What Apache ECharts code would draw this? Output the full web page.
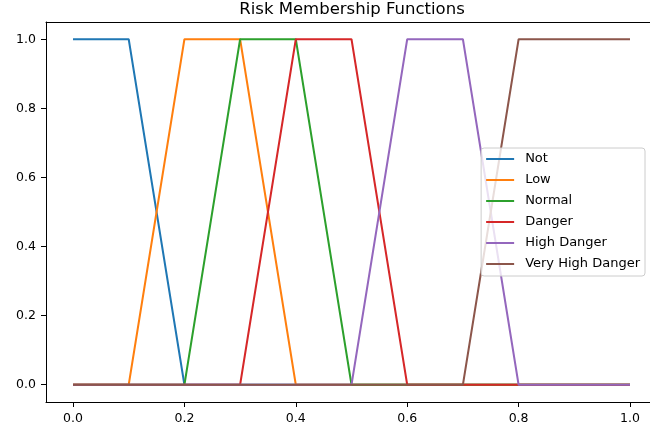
<!DOCTYPE html>
<html>
<head>
<meta charset="utf-8">
<script src="https://cdn.jsdelivr.net/npm/echarts@6/dist/echarts.min.js"></script>
<style>
  html, body { margin: 0; padding: 0; background: #fff; }
  #chart { width: 650px; height: 431px; }
</style>
</head>
<body>
<div id="chart"></div>
<script>
// corner points of each membership function
const seriesNames = ['Not', 'Low', 'Normal', 'Danger', 'High Danger', 'Very High Danger'];
const notPts = [[0, 1], [0.1, 1], [0.2, 0], [1, 0]];
const lowPts = [[0, 0], [0.1, 0], [0.2, 1], [0.3, 1], [0.4, 0], [1, 0]];
const normalPts = [[0, 0], [0.2, 0], [0.3, 1], [0.4, 1], [0.5, 0], [1, 0]];
const dangerPts = [[0, 0], [0.3, 0], [0.4, 1], [0.5, 1], [0.6, 0], [1, 0]];
const highDangerPts = [[0, 0], [0.5, 0], [0.6, 1], [0.7, 1], [0.8, 0], [1, 0]];
const veryHighPts = [[0, 0], [0.7, 0], [0.8, 1], [1, 1]];
const xTicks = [0, 0.2, 0.4, 0.6, 0.8, 1.0];
const yTicks = [0, 0.2, 0.4, 0.6, 0.8, 1.0];

const colors = ['#1f77b4', '#ff7f0e', '#2ca02c', '#d62728', '#9467bd', '#8c564b'];
const allPts = [notPts, lowPts, normalPts, dangerPts, highDangerPts, veryHighPts];

const font = 'DejaVu Sans';

// shared look of the two value axes (matplotlib-like spines and ticks)
const makeAxis = (ticks, min, max) => ({
    type: 'value',
    min: min,
    max: max,
    axisLine: { show: true, onZero: false, lineStyle: { color: '#000', width: 1 } },
    splitLine: { show: false },
    axisTick: {
        show: true, inside: false, length: 5, customValues: ticks,
        lineStyle: { color: '#000', width: 1 }
    },
    axisLabel: {
        color: '#000', fontSize: 12.5, fontFamily: font, margin: 10, customValues: ticks,
        formatter: (v) => v.toFixed(1)
    }
});

const option = {
    animation: false,
    color: colors,
    title: {
        text: 'Risk Membership Functions',
        left: 352,
        top: 0,
        padding: [1, 0, 0, 0],
        textAlign: 'center',
        textStyle: { color: '#000', fontSize: 16.5, fontWeight: 'normal', fontFamily: font }
    },
    legend: {
        orient: 'vertical',
        right: 5,
        top: 148,
        data: seriesNames,
        icon: 'rect',
        itemWidth: 28,
        itemHeight: 2,
        itemGap: 7,
        padding: [4, 5, 5, 5],
        backgroundColor: 'rgba(255,255,255,0.8)',
        borderColor: '#cccccc',
        borderWidth: 1,
        borderRadius: 3,
        textStyle: {
            color: '#000', fontSize: 13, fontFamily: font,
            lineHeight: 14, padding: [0, 0, 0, 6]
        }
    },
    grid: { left: 46, top: 22, right: 0, bottom: 29 },
    xAxis: [
        makeAxis(xTicks, -0.0485, 1.0359),
        {
            type: 'value', position: 'top', min: -0.0485, max: 1.0359,
            axisLine: { show: true, onZero: false, lineStyle: { color: '#000', width: 1 } },
            axisTick: { show: false }, axisLabel: { show: false }, splitLine: { show: false }
        }
    ],
    yAxis: makeAxis(yTicks, -0.05, 1.05),
    series: seriesNames.map((name, i) => ({
        name: name,
        type: 'line',
        data: allPts[i],
        symbol: 'none',
        lineStyle: { width: 2, color: colors[i] },
        itemStyle: { color: colors[i] }
    }))
};

const chart = echarts.init(document.getElementById('chart'));
chart.setOption(option);
</script>
</body>
</html>
